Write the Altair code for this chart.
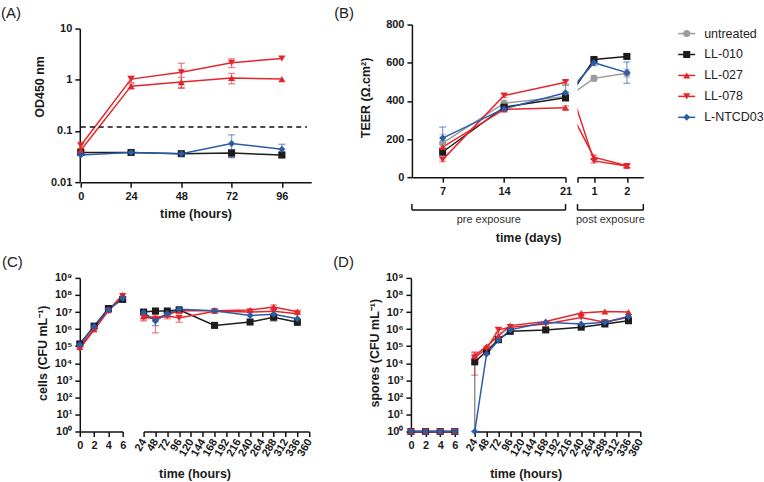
import altair as alt
import pandas as pd

FONT = "Liberation Sans, Arial, sans-serif"

SERIES = ["untreated", "LL-010", "LL-027", "LL-078", "L-NTCD03"]
COLORS = ["#9b9b9b", "#1c1c1c", "#e4262c", "#e4262c", "#2a5ca8"]
SHAPES = ["circle", "square", "triangle-up", "triangle-down", "diamond"]
SIZES = [50, 50, 60, 60, 60]

# (A) optical density of the cultures
A_HOURS = [0, 24, 48, 72, 96]
A_OD = {
    "LL-010": [0.038, 0.038, 0.036, 0.037, 0.034],
    "LL-027": [0.042, 0.75, 0.90, 1.08, 1.03],
    "LL-078": [0.052, 1.03, 1.40, 2.15, 2.6],
    "L-NTCD03": [0.034, 0.038, 0.036, 0.057, 0.044],
}
A_SD = {
    "LL-010": [0.003, 0, 0, 0.006, 0.004],
    "LL-027": [0.004, 0.08, 0.22, 0.25, 0],
    "LL-078": [0.008, 0.15, 0.70, 0.42, 0],
    "L-NTCD03": [0, 0.002, 0.002, 0.027, 0.011],
}
OD_THRESHOLD = 0.12

# (B) TEER before and after exposure
B_PRE_DAYS = [7, 14, 21]
B_POST_DAYS = [1, 2]
B_PRE = {
    "untreated": [179, 388, 423],
    "LL-010": [132, 367, 416],
    "LL-027": [158, 355, 364],
    "LL-078": [92, 428, 498],
    "L-NTCD03": [205, 359, 443],
}
B_PRE_SD = {
    "untreated": [45, 15, 22],
    "LL-010": [20, 10, 15],
    "LL-027": [15, 10, 10],
    "LL-078": [10, 10, 10],
    "L-NTCD03": [58, 10, 38],
}
B_POST = {
    "untreated": [518, 545],
    "LL-010": [617, 633],
    "LL-027": [105, 60],
    "LL-078": [85, 58],
    "L-NTCD03": [600, 548],
}
B_POST_SD = {
    "untreated": [15, 20],
    "LL-010": [10, 10],
    "LL-027": [10, 8],
    "LL-078": [10, 8],
    "L-NTCD03": [15, 56],
}
# where the day-21 column falls on the post-exposure day axis
B_CARRY_X = 0.22

# (C) vegetative cells and (D) spores
EARLY_H = [0, 2, 4, 6]
LATE_H = [24, 48, 72, 96, 168, 240, 288, 336]
LATE_TICKS = list(range(24, 361, 24))
DECADES = [10 ** k for k in range(10)]

C_EARLY = {
    "LL-010": [1.35e5, 1.5e6, 1.6e7, 5.5e7],
    "LL-027": [9e4, 1.0e6, 1.3e7, 1.0e8],
    "LL-078": [7e4, 9e5, 1.2e7, 8.5e7],
    "L-NTCD03": [1.2e5, 1.4e6, 1.3e7, 6.5e7],
}
C_LATE = {
    "LL-010": [1.0e7, 1.15e7, 1.15e7, 1.35e7, 1.65e6, 2.6e6, 5.0e6, 2.5e6],
    "LL-027": [6e6, 4.5e6, 7e6, 1.2e7, 1.2e7, 1.3e7, 2.0e7, 1.05e7],
    "LL-078": [5e6, 4e6, 6e6, 4.5e6, 1.1e7, 1.0e7, 1.1e7, 8e6],
    "L-NTCD03": [9.5e6, 3.0e6, 8.0e6, 1.45e7, 1.2e7, 6.3e6, 7.5e6, 4.0e6],
}
C_LATE_SD = {
    "LL-010": [2e6, 0, 0, 0, 0, 0, 2e6, 0],
    "LL-027": [2.5e6, 0, 0, 0, 3e6, 3e6, 6e6, 2e6],
    "LL-078": [2e6, 3.4e6, 2e6, 2e6, 0, 0, 0, 0],
    "L-NTCD03": [2e6, 1.4e6, 2e6, 0, 0, 0, 0, 0],
}
D_EARLY = {
    "LL-010": [1, 1, 1, 1],
    "LL-027": [1, 1, 1, 1],
    "LL-078": [1, 1, 1, 1],
    "L-NTCD03": [1, 1, 1, 1],
}
D_LATE = {
    "LL-010": [1.2e4, 5e4, 2.4e5, 7.4e5, 9e5, 1.3e6, 2.0e6, 3.1e6],
    "LL-027": [2.8e4, 9.8e4, 4e5, 1.6e6, 2.8e6, 8.7e6, 1.07e7, 1.0e7],
    "LL-078": [2.2e4, 7e4, 9e5, 1.3e6, 2.0e6, 4.8e6, 2.5e6, 5e6],
    "L-NTCD03": [1, 3.5e4, 2.2e5, 9e5, 2.5e6, 2.0e6, 2.5e6, 5.5e6],
}
D_LATE_SD = {
    "LL-010": [1.5e4, 0, 5e4, 0, 2e5, 0, 0, 0],
    "LL-027": [1.8e4, 0, 0, 0, 0, 0, 0, 0],
    "LL-078": [2e4, 0, 3e5, 0, 0, 0, 8e5, 0],
    "L-NTCD03": [0, 0, 0, 0, 0, 0, 0, 0],
}


def tables(xs, values, sds=None, floor=None):
    """Long-form point table plus an error-bar table (mean +/- SD)."""
    rows, errs = [], []
    for s in SERIES:
        if s not in values:
            continue
        for i, (x, v) in enumerate(zip(xs, values[s])):
            rows.append({"series": s, "x": x, "y": v})
            if sds and sds[s][i] > 0:
                lo = v - sds[s][i]
                if floor is not None:
                    lo = max(lo, floor)
                errs.append({"series": s, "x": x, "lo": lo, "hi": v + sds[s][i]})
    return pd.DataFrame(rows), pd.DataFrame(errs, columns=["series", "x", "lo", "hi"])


COLOR = alt.Color("series:N", scale=alt.Scale(domain=SERIES, range=COLORS), legend=None)
SHAPE = alt.Shape("series:N", scale=alt.Scale(domain=SERIES, range=SHAPES), legend=None)
SIZE = alt.Size("series:N", scale=alt.Scale(domain=SERIES, range=SIZES), legend=None)


def text(t, x, y, size=12, weight="normal", align="left", color="#222"):
    return alt.Chart(pd.DataFrame({"t": [t]})).mark_text(
        font=FONT, fontSize=size, fontWeight=weight, align=align, baseline="middle", color=color
    ).encode(text="t:N", x=alt.value(x), y=alt.value(y))


def spacer(x, y):
    """One-pixel white block that pins the outer edge of a row."""
    return alt.Chart(pd.DataFrame({"a": [0]})).mark_rect(color="white").encode(
        x=alt.value(x), x2=alt.value(x + 1), y=alt.value(y), y2=alt.value(y + 1)
    )


class Axes:
    """Shared scale/axis pair so every layer of a panel agrees on its guides."""

    def __init__(self, xs, ys, xaxis, yaxis):
        self.xs, self.ys, self.xaxis, self.yaxis = xs, ys, xaxis, yaxis

    def x(self, field):
        return alt.X(field, scale=self.xs, axis=self.xaxis)

    def y(self, field):
        return alt.Y(field, scale=self.ys, axis=self.yaxis)


def panel(ax, pts, errs, w, h, line_pts=None, clip=False, extras=()):
    layers = []
    if len(errs):
        layers.append(
            alt.Chart(errs).mark_errorbar(ticks=True, size=7, thickness=1.3, opacity=0.55).encode(
                x=ax.x("x:Q"), y=ax.y("lo:Q"), y2="hi:Q", color=COLOR
            )
        )
    lp = pts if line_pts is None else line_pts
    layers.append(
        alt.Chart(lp).mark_line(strokeWidth=1.5, clip=clip).encode(
            x=ax.x("x:Q"), y=ax.y("y:Q"), color=COLOR, detail="series:N"
        )
    )
    layers.append(
        alt.Chart(pts).mark_point(filled=True, opacity=1, strokeWidth=0).encode(
            x=ax.x("x:Q"), y=ax.y("y:Q"), color=COLOR, shape=SHAPE, size=SIZE
        )
    )
    layers.extend(extras)
    return alt.layer(*layers).properties(width=w, height=h)


SUP_EXPR = (
    "'10' + substring('\u2070\u00b9\u00b2\u00b3\u2074\u2075\u2076\u2077\u2078\u2079', "
    "round(log(datum.value) / LN10), round(log(datum.value) / LN10) + 1)"
)

# ---------- (A) ----------
a_pts, a_err = tables(A_HOURS, A_OD, A_SD, floor=0.01)
ax_a = Axes(
    alt.Scale(domain=[0, 110], range=[1, 232], nice=False, zero=False),
    alt.Scale(type="log", domain=[0.01, 10], range=[158, 4], nice=False),
    alt.Axis(values=A_HOURS, offset=5, title="time (hours)", titleX=116, titleY=31, titleBaseline="middle"),
    alt.Axis(values=[0.01, 0.1, 1, 10], format="~g", title="OD450 nm", titleX=-40, titleY=62,
             titleBaseline="middle"),
)
a_threshold = alt.Chart(pd.DataFrame({"x0": [0], "x1": [108], "y": [OD_THRESHOLD]})).mark_rule(
    strokeDash=[5, 4], strokeWidth=1.5, color="#111"
).encode(x=ax_a.x("x0:Q"), x2="x1:Q", y=ax_a.y("y:Q"))
panel_a = panel(
    ax_a, a_pts, a_err, 321, 153,
    extras=[a_threshold, spacer(-80, -24), spacer(-80, 225), text("(A)", -79, -12, size=15)],
)

# ---------- (B) ----------
b_pre_pts, b_pre_err = tables(B_PRE_DAYS, B_PRE, B_PRE_SD)
b_post_pts, b_post_err = tables(B_POST_DAYS, B_POST, B_POST_SD)
carry = pd.DataFrame({"series": SERIES, "x": B_CARRY_X, "y": [B_PRE[s][-1] for s in SERIES]})
b_post_lines = pd.concat([carry, b_post_pts], ignore_index=True)

b_y = alt.Scale(domain=[0, 800], range=[153, 0], nice=False, zero=False)
ax_b_pre = Axes(
    alt.Scale(domain=[3.5, 21], range=[0, 154], nice=False, zero=False),
    b_y,
    alt.Axis(values=B_PRE_DAYS, title=None),
    alt.Axis(values=[0, 200, 400, 600, 800], title="TEER (\u03a9.cm\u00b2)", titleX=-47, titleY=73,
             titleBaseline="middle"),
)
ax_b_post = Axes(
    alt.Scale(domain=[0.5, 2.5], range=[0, 66], nice=False, zero=False),
    b_y,
    alt.Axis(values=[0.5, 1, 2], labelExpr="datum.value < 1 ? '' : format(datum.value, 'd')", title=None),
    None,
)


def bracket(ax, lo, hi):
    span = alt.Chart(pd.DataFrame({"x0": [lo], "x1": [hi]})).mark_rule(strokeWidth=1.5, color="#111").encode(
        x=ax.x("x0:Q"), x2="x1:Q", y=alt.value(186)
    )
    ends = alt.Chart(pd.DataFrame({"x": [lo, hi]})).mark_rule(strokeWidth=1.5, color="#111").encode(
        x=ax.x("x:Q"), y=alt.value(180), y2=alt.value(186)
    )
    return [span, ends]


panel_b_pre = panel(
    ax_b_pre, b_pre_pts, b_pre_err, 154, 153,
    extras=bracket(ax_b_pre, 3.5, 21) + [
        text("pre exposure", 77, 196, size=11, align="center", color="#333"),
        text("time  (days)", 117, 214, size=12.5, weight="bold", align="center", color="#1a1a1a"),
        text("(B)", -78, -12, size=15),
    ],
)
panel_b_post = panel(
    ax_b_post, b_post_pts, b_post_err, 66, 153,
    line_pts=b_post_lines, clip=True,
    extras=bracket(ax_b_post, 0.5, 2.5) + [
        text("post exposure", 33, 196, size=11, align="center", color="#333"),
    ],
)

# ---------- legend ----------
leg = pd.DataFrame({"series": SERIES})
leg_y = alt.Y("series:N", scale=alt.Scale(type="point", domain=SERIES, range=[9, 93], padding=0), axis=None)
legend = alt.layer(
    alt.Chart(leg).mark_rule(strokeWidth=1.5).encode(x=alt.value(23), x2=alt.value(40), y=leg_y, color=COLOR),
    alt.Chart(leg).mark_point(filled=True, opacity=1, strokeWidth=0).encode(
        x=alt.value(31.5), y=leg_y, color=COLOR, shape=SHAPE, size=SIZE
    ),
    alt.Chart(leg).mark_text(font=FONT, fontSize=12.5, align="left", baseline="middle", color="#222").encode(
        x=alt.value(49), y=leg_y, text="series:N"
    ),
).properties(width=107, height=153)

# ---------- (C) and (D) ----------
log_y = alt.Scale(type="log", domain=[1, 1e9], range=[154, 0], nice=False)


def log_axis(title):
    return alt.Axis(values=DECADES, labelExpr=SUP_EXPR, title=title, titleX=-37, titleY=75,
                    titleBaseline="middle")


early_axis = alt.Axis(values=EARLY_H, title=None)
late_axis = alt.Axis(values=LATE_TICKS, labelAngle=-60, title="time (hours)", titleX=51, titleY=42,
                     titleBaseline="middle")
late_scale = alt.Scale(domain=[24, 360], range=[0, 166], nice=False, zero=False)

ax_c_early = Axes(alt.Scale(domain=[0, 6], range=[0, 43], nice=False, zero=False), log_y, early_axis,
                  log_axis("cells (CFU mL\u207b\u00b9)"))
ax_d_early = Axes(alt.Scale(domain=[0, 6], range=[0, 44], nice=False, zero=False), log_y, early_axis,
                  log_axis("spores (CFU mL\u207b\u00b9)"))
ax_late = Axes(late_scale, log_y, late_axis, None)

c_e_pts, c_e_err = tables(EARLY_H, C_EARLY)
c_l_pts, c_l_err = tables(LATE_H, C_LATE, C_LATE_SD, floor=1)
d_e_pts, d_e_err = tables(EARLY_H, D_EARLY)
d_l_pts, d_l_err = tables(LATE_H, D_LATE, D_LATE_SD, floor=1)

panel_c_early = panel(ax_c_early, c_e_pts, c_e_err, 52, 154,
                      extras=[spacer(-80, -28), text("(C)", -78, -16, size=15)])
panel_c_late = panel(ax_late, c_l_pts, c_l_err, 256, 154)
panel_d_early = panel(ax_d_early, d_e_pts, d_e_err, 52, 154, extras=[text("(D)", -78, -16, size=15)])
panel_d_late = panel(ax_late, d_l_pts, d_l_err, 166, 154)

row_top = alt.hconcat(panel_a, panel_b_pre, panel_b_post, legend, spacing=12, bounds="flush").resolve_scale(
    x="independent", y="independent"
)
row_bottom = alt.hconcat(
    panel_c_early, panel_c_late, panel_d_early, panel_d_late, spacing=12, bounds="flush"
).resolve_scale(x="independent", y="independent")

chart = alt.vconcat(row_top, row_bottom, spacing=0).properties(
    padding=0,
    autosize=alt.AutoSizeParams(type="pad"),
).resolve_scale(
    x="independent", y="independent"
).configure_view(
    strokeWidth=0
).configure_axis(
    grid=False,
    domainColor="#111",
    domainWidth=1.5,
    tickColor="#111",
    tickWidth=1.5,
    tickSize=5,
    labelFont=FONT,
    labelFontSize=11,
    labelFontWeight="bold",
    labelColor="#1a1a1a",
    labelPadding=3,
    labelFlush=False,
    labelOverlap=False,
    titleFont=FONT,
    titleFontSize=12.5,
    titleFontWeight="bold",
    titleColor="#1a1a1a",
)

chart.save("out.html", embed_options={"renderer": "svg", "actions": False})
